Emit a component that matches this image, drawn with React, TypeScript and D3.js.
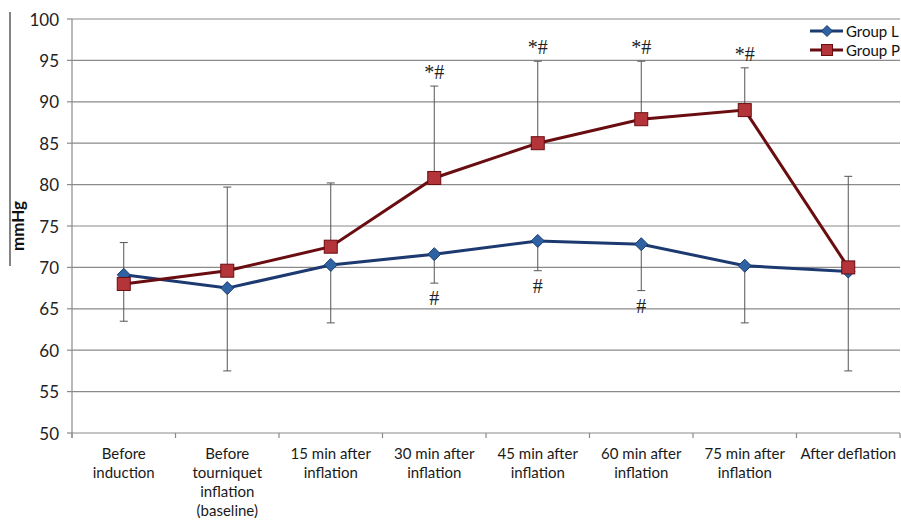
import React from "react";
import * as d3 from "d3";

const categories: string[][] = [
  ["Before", "induction"],
  ["Before", "tourniquet", "inflation", "(baseline)"],
  ["15 min after", "inflation"],
  ["30 min after", "inflation"],
  ["45 min after", "inflation"],
  ["60 min after", "inflation"],
  ["75 min after", "inflation"],
  ["After deflation"],
];

const groupL = [69.1, 67.5, 70.3, 71.6, 73.2, 72.8, 70.2, 69.5];
const groupLsd = [5.6, 10.0, 7.0, 3.5, 3.6, 5.6, 6.9, 12.0];
const groupP = [68.0, 69.6, 72.5, 80.8, 85.0, 87.9, 89.0, 70.0];
const groupPsd = [5.0, 10.1, 7.7, 11.1, 9.9, 7.0, 5.1, 11.0];

const markP = ["", "", "", "*#", "*#", "*#", "*#", ""];
const markL = ["", "", "", "#", "#", "#", "", ""];

const yTicks = [50, 55, 60, 65, 70, 75, 80, 85, 90, 95, 100];

const W = 901;
const H = 521;
const left = 72;
const right = 900;
const top = 19;
const bottom = 433;

const navy = "#1c3a70";
const navyFill = "#2f62a3";
const maroon = "#6a0d10";
const maroonFill = "#b3353a";
const font = "Lato, 'Open Sans', sans-serif";

export default function App() {
  const x = d3
    .scaleBand<number>()
    .domain(d3.range(categories.length))
    .range([left, right]);
  const y = d3.scaleLinear().domain([50, 100]).range([bottom, top]);
  const cx = (i: number) => (x(i) as number) + x.bandwidth() / 2;

  const line = d3
    .line<number>()
    .x((_, i) => cx(i))
    .y((v) => y(v));

  const diamond = (px: number, py: number, r: number) =>
    `M${px},${py - r}L${px + r},${py}L${px},${py + r}L${px - r},${py}Z`;

  const capW = 4;

  return (
    <svg width={W} height={H} style={{ position: "absolute", left: 0, top: 0, background: "#fff" }}>
      {/* grid lines and y ticks */}
      {yTicks.map((t) => (
        <g key={t}>
          <line x1={left} x2={right} y1={y(t)} y2={y(t)} stroke="#8a8a8a" strokeWidth={1.2} />
          <line x1={left - 5} x2={left} y1={y(t)} y2={y(t)} stroke="#8a8a8a" strokeWidth={1.2} />
          <text
            x={59}
            y={y(t)}
            textAnchor="end"
            dominantBaseline="central"
            fontFamily={font}
            fontSize={17}
            fill="#222"
          >
            {t}
          </text>
        </g>
      ))}
      {/* axes */}
      <line x1={left} x2={left} y1={top} y2={bottom + 5} stroke="#8a8a8a" strokeWidth={1.2} />
      {d3.range(categories.length + 1).map((i) => {
        const xx = i < categories.length ? (x(i) as number) : right;
        return (
          <line key={i} x1={xx} x2={xx} y1={bottom} y2={bottom + 5} stroke="#8a8a8a" strokeWidth={1.2} />
        );
      })}
      {/* category labels */}
      {categories.map((lines, i) => (
        <text key={i} x={cx(i)} textAnchor="middle" fontFamily={font} fontSize={15} fill="#1a1a1a">
          {lines.map((s, k) => (
            <tspan key={k} x={cx(i)} y={459 + k * 19}>
              {s}
            </tspan>
          ))}
        </text>
      ))}
      {/* y axis title */}
      <line x1={10} x2={10} y1={12} y2={266} stroke="#333" strokeWidth={1.2} />
      <text
        transform={`translate(24,226) rotate(-90)`}
        textAnchor="middle"
        fontFamily={font}
        fontWeight="bold"
        fontSize={17}
        fill="#111"
      >
        mmHg
      </text>
      {/* error bars: Group P upward, Group L downward */}
      {groupP.map((v, i) => (
        <g key={"ep" + i} stroke="#555" strokeWidth={1}>
          <line x1={cx(i)} x2={cx(i)} y1={y(v)} y2={y(v + groupPsd[i])} />
          <line x1={cx(i) - capW} x2={cx(i) + capW} y1={y(v + groupPsd[i])} y2={y(v + groupPsd[i])} />
        </g>
      ))}
      {groupL.map((v, i) => (
        <g key={"el" + i} stroke="#555" strokeWidth={1}>
          <line x1={cx(i)} x2={cx(i)} y1={y(v)} y2={y(v - groupLsd[i])} />
          <line x1={cx(i) - capW} x2={cx(i) + capW} y1={y(v - groupLsd[i])} y2={y(v - groupLsd[i])} />
        </g>
      ))}
      {/* significance marks */}
      {markP.map((m, i) =>
        m ? (
          <text
            key={"mp" + i}
            x={cx(i)}
            y={y(groupP[i] + groupPsd[i]) - 14}
            textAnchor="middle"
            dominantBaseline="central"
            fontFamily="'Liberation Serif', serif"
            fontSize={20}
            fill="#222"
          >
            {m}
          </text>
        ) : null
      )}
      {markL.map((m, i) =>
        m ? (
          <text
            key={"ml" + i}
            x={cx(i)}
            y={y(groupL[i] - groupLsd[i]) + 15}
            textAnchor="middle"
            dominantBaseline="central"
            fontFamily="'Liberation Serif', serif"
            fontSize={20}
            fill="#222"
          >
            {m}
          </text>
        ) : null
      )}
      {/* Group L */}
      <path d={line(groupL) as string} fill="none" stroke={navy} strokeWidth={3} />
      {groupL.map((v, i) => (
        <path key={"dl" + i} d={diamond(cx(i), y(v), 6.5)} fill={navyFill} stroke={navy} strokeWidth={1} />
      ))}
      {/* Group P */}
      <path d={line(groupP) as string} fill="none" stroke={maroon} strokeWidth={3} />
      {groupP.map((v, i) => (
        <rect
          key={"sp" + i}
          x={cx(i) - 6.5}
          y={y(v) - 6.5}
          width={13}
          height={13}
          fill={maroonFill}
          stroke={maroon}
          strokeWidth={1}
        />
      ))}
      {/* legend */}
      <g>
        <line x1={810} x2={843} y1={31} y2={31} stroke={navy} strokeWidth={3} />
        <path d={diamond(827, 31, 5.5)} fill={navyFill} stroke={navy} strokeWidth={1} />
        <text x={846} y={31} dominantBaseline="central" fontFamily={font} fontSize={15} fill="#111">
          Group L
        </text>
        <line x1={810} x2={843} y1={50} y2={50} stroke={maroon} strokeWidth={3} />
        <rect x={821.5} y={44.5} width={11} height={11} fill={maroonFill} stroke={maroon} strokeWidth={1} />
        <text x={846} y={50} dominantBaseline="central" fontFamily={font} fontSize={15} fill="#111">
          Group P
        </text>
      </g>
    </svg>
  );
}
